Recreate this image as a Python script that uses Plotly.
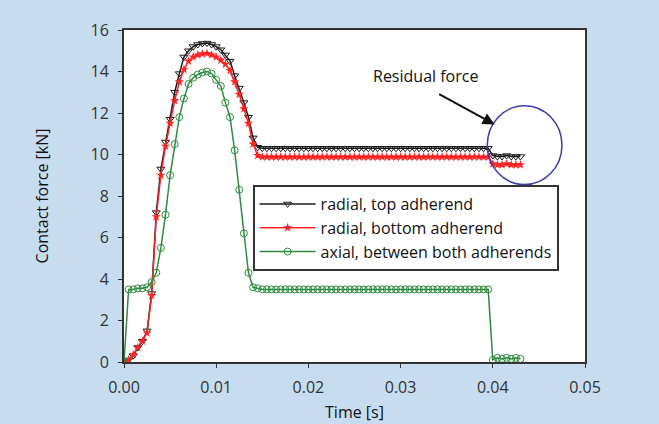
import plotly.graph_objects as go

time_s = [0.0000, 0.0005, 0.0010, 0.0015, 0.0020, 0.0025, 0.0030, 0.0035, 0.0040, 0.0045,
          0.0050, 0.0055, 0.0060, 0.0065, 0.0070, 0.0075, 0.0080, 0.0085, 0.0090, 0.0095,
          0.0100, 0.0105, 0.0110, 0.0115, 0.0120, 0.0125, 0.0130, 0.0135, 0.0140, 0.0145,
          0.0150, 0.0155, 0.0160, 0.0165, 0.0170, 0.0175, 0.0180, 0.0185, 0.0190, 0.0195,
          0.0200, 0.0205, 0.0210, 0.0215, 0.0220, 0.0225, 0.0230, 0.0235, 0.0240, 0.0245,
          0.0250, 0.0255, 0.0260, 0.0265, 0.0270, 0.0275, 0.0280, 0.0285, 0.0290, 0.0295,
          0.0300, 0.0305, 0.0310, 0.0315, 0.0320, 0.0325, 0.0330, 0.0335, 0.0340, 0.0345,
          0.0350, 0.0355, 0.0360, 0.0365, 0.0370, 0.0375, 0.0380, 0.0385, 0.0390, 0.0395,
          0.0400, 0.0405, 0.0410, 0.0415, 0.0420, 0.0425, 0.0430]

radial_top = [0.0, 0.1, 0.3, 0.7, 1.0, 1.5, 3.3, 7.2, 9.3, 10.6,
              11.7, 13.0, 13.9, 14.7, 15.0, 15.2, 15.3, 15.35, 15.37, 15.3,
              15.2, 15.05, 14.8, 14.5, 13.8, 13.2, 12.5, 11.8, 10.8, 10.35,
              10.3, 10.3, 10.3, 10.3, 10.3, 10.3, 10.3, 10.3, 10.3, 10.3,
              10.3, 10.3, 10.3, 10.3, 10.3, 10.3, 10.3, 10.3, 10.3, 10.3,
              10.3, 10.3, 10.3, 10.3, 10.3, 10.3, 10.3, 10.3, 10.3, 10.3,
              10.3, 10.3, 10.3, 10.3, 10.3, 10.3, 10.3, 10.3, 10.3, 10.3,
              10.3, 10.3, 10.3, 10.3, 10.3, 10.3, 10.3, 10.3, 10.3, 10.3,
              9.95, 9.9, 9.9, 9.95, 9.9, 9.9, 9.9]

radial_bottom = [0.0, 0.1, 0.35, 0.7, 1.0, 1.4, 3.2, 7.0, 9.0, 10.4,
                 11.5, 12.6, 13.5, 14.1, 14.5, 14.7, 14.8, 14.85, 14.87, 14.8,
                 14.7, 14.55, 14.35, 14.05, 13.5, 12.9, 12.2, 11.5, 10.5, 9.95,
                 9.88, 9.88, 9.88, 9.88, 9.88, 9.88, 9.88, 9.88, 9.88, 9.88,
                 9.88, 9.88, 9.88, 9.88, 9.88, 9.88, 9.88, 9.88, 9.88, 9.88,
                 9.88, 9.88, 9.88, 9.88, 9.88, 9.88, 9.88, 9.88, 9.88, 9.88,
                 9.88, 9.88, 9.88, 9.88, 9.88, 9.88, 9.88, 9.88, 9.88, 9.88,
                 9.88, 9.88, 9.88, 9.88, 9.88, 9.88, 9.88, 9.88, 9.88, 9.88,
                 9.55, 9.5, 9.5, 9.55, 9.5, 9.5, 9.5]

axial = [0.0, 3.5, 3.5, 3.55, 3.55, 3.6, 3.85, 4.3, 5.5, 7.1,
         9.0, 10.5, 11.8, 12.7, 13.4, 13.7, 13.85, 13.95, 14.0, 13.9,
         13.6, 13.3, 12.5, 11.8, 10.2, 8.3, 6.2, 4.3, 3.6, 3.55,
         3.5, 3.5, 3.5, 3.5, 3.5, 3.5, 3.5, 3.5, 3.5, 3.5,
         3.5, 3.5, 3.5, 3.5, 3.5, 3.5, 3.5, 3.5, 3.5, 3.5,
         3.5, 3.5, 3.5, 3.5, 3.5, 3.5, 3.5, 3.5, 3.5, 3.5,
         3.5, 3.5, 3.5, 3.5, 3.5, 3.5, 3.5, 3.5, 3.5, 3.5,
         3.5, 3.5, 3.5, 3.5, 3.5, 3.5, 3.5, 3.5, 3.5, 3.5,
         0.1, 0.2, 0.15, 0.2, 0.15, 0.2, 0.15]

series_names = ["radial, top adherend", "radial, bottom adherend", "axial, between both adherends"]
x_ticks = [0.0, 0.01, 0.02, 0.03, 0.04, 0.05]
y_ticks = [0, 2, 4, 6, 8, 10, 12, 14, 16]

FONT = "Open Sans"
BG = "#c8dcf0"

fig = go.Figure()
fig.add_trace(go.Scatter(x=time_s, y=radial_top, name=series_names[0], mode="lines+markers",
                         line=dict(color="#1a1a1a", width=1.5),
                         marker=dict(symbol="triangle-down-open", size=7, color="#1a1a1a", line=dict(width=1))))
fig.add_trace(go.Scatter(x=time_s, y=radial_bottom, name=series_names[1], mode="lines+markers",
                         line=dict(color="#ff2222", width=1.5),
                         marker=dict(symbol="star", size=7, color="#ff2222")))
fig.add_trace(go.Scatter(x=time_s, y=axial, name=series_names[2], mode="lines+markers",
                         line=dict(color="#2e8b3e", width=1.5),
                         marker=dict(symbol="circle-open", size=7, color="#2e8b3e", line=dict(width=1))))

fig.add_shape(type="circle", xref="x", yref="y", x0=0.0394, x1=0.0475, y0=8.55, y1=12.35,
              line=dict(color="#3c3ca8", width=1.5))
fig.add_annotation(x=0.0402, y=11.45, xref="x", yref="y", text="", showarrow=True,
                   ax=-57, ay=-31, arrowhead=2, arrowsize=1.2, arrowwidth=2, arrowcolor="#111")
fig.add_annotation(x=0.0327, y=13.8, xref="x", yref="y", text="Residual force", showarrow=False,
                   font=dict(family=FONT, size=16, color="#111"))

fig.update_layout(
    width=659, height=424,
    paper_bgcolor=BG, plot_bgcolor="white",
    margin=dict(l=124, r=74, t=30, b=62),
    font=dict(family=FONT, size=16, color="#333"),
    legend=dict(x=0.279, y=0.533, xanchor="left", yanchor="top",
                bgcolor="white", bordercolor="#333", borderwidth=2,
                font=dict(family=FONT, size=16, color="#111"),
                tracegroupgap=0, itemwidth=56),
    xaxis=dict(range=[0, 0.05], tickvals=x_ticks, tickformat=".2f", automargin=False,
               showgrid=False, zeroline=False, showline=True, linecolor="#333", linewidth=2, mirror=True,
               ticks="outside", ticklen=4, tickcolor="#333", ticklabelstandoff=6,
               title=dict(text="Time [s]", font=dict(family=FONT, size=16, color="#111"), standoff=10)),
    yaxis=dict(range=[0, 16], tickvals=y_ticks, automargin=False,
               showgrid=False, zeroline=False, showline=True, linecolor="#333", linewidth=2, mirror=True,
               ticks="outside", ticklen=4, tickcolor="#333", ticklabelstandoff=6,
               title=dict(text="Contact force [kN]", font=dict(family=FONT, size=16, color="#111"), standoff=38)),
)

fig.write_html("out.html", config={"displayModeBar": False},
               post_script="document.body.style.margin='0';")
